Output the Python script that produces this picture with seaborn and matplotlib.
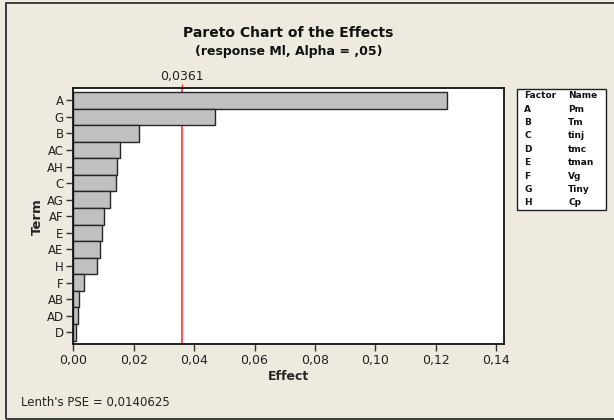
import matplotlib
matplotlib.use("Agg")
import matplotlib.pyplot as plt
from matplotlib.patches import Rectangle
from matplotlib.ticker import FuncFormatter, FixedLocator
import seaborn as sns
import pandas as pd

# Standardized effects, sorted by magnitude
terms = ["A", "G", "B", "AC", "AH", "C", "AG", "AF", "E", "AE", "H", "F", "AB", "AD", "D"]
effects = [0.1238, 0.0470, 0.0218, 0.0155, 0.01435, 0.0143, 0.0123, 0.0102,
           0.0094, 0.0088, 0.0078, 0.0034, 0.0020, 0.0017, 0.0010]

critical_value = 0.0361
critical_label = "0,0361"
lenth_pse = "0,0140625"

factor_codes = ["A", "B", "C", "D", "E", "F", "G", "H"]
factor_names = ["Pm", "Tm", "tinj", "tmc", "tman", "Vg", "Tiny", "Cp"]

x_ticks = [0.00, 0.02, 0.04, 0.06, 0.08, 0.10, 0.12, 0.14]

W, H = 614, 420
BG = "#EEEAE0"

sns.set_theme(style="white")
plt.rcParams["font.family"] = ["DejaVu Sans"]


def fx(px):
    return px / W


def fy(py):
    return 1 - py / H


df = pd.DataFrame({"Term": terms, "Effect": effects})

fig = plt.figure(figsize=(W / 100, H / 100), dpi=100)
fig.patch.set_facecolor(BG)

# outer frame
fig.add_artist(Rectangle((fx(6), fy(419)), fx(640) - fx(6), fy(3) - fy(419),
                         transform=fig.transFigure, fill=False,
                         edgecolor="#202020", linewidth=1.2))

ax = fig.add_axes([fx(73.3), fy(344.3), fx(504) - fx(73.3), fy(88.3) - fy(344.3)])
ax.set_facecolor("white")

sns.barplot(data=df, x="Effect", y="Term", orient="h", color="#C0C0C0",
            saturation=1, width=1.0, edgecolor="#262626", linewidth=1.0, ax=ax)

ax.axvline(critical_value, color="#FF2020", linewidth=1.1, zorder=0.5)

ax.set_xlim(0, 0.1426)
ax.set_ylim(len(terms) - 0.5 + 0.22, -0.5 - 0.22)

ax.xaxis.set_major_locator(FixedLocator(x_ticks))
ax.xaxis.set_major_formatter(FuncFormatter(lambda v, _: f"{v:.2f}".replace(".", ",")))

for s in ax.spines.values():
    s.set_visible(True)
    s.set_color("#111111")
    s.set_linewidth(1.3)

ax.tick_params(axis="x", bottom=True, direction="out", length=5, width=1,
               color="#333333", labelsize=9, pad=2, labelcolor="#222222")
ax.tick_params(axis="y", left=True, direction="out", length=5, width=1,
               color="#333333", labelsize=8.5, pad=2, labelcolor="#222222")

ax.set_xlabel("Effect", fontsize=9, fontweight="bold", labelpad=2)
ax.set_ylabel("Term", fontsize=9.5, fontweight="bold", labelpad=1.5)

# critical value marker on the top edge
sec = ax.secondary_xaxis("top")
sec.set_xticks([critical_value])
sec.set_xticklabels([critical_label])
sec.tick_params(axis="x", direction="out", length=3, width=1, color="#FF2020",
                labelsize=9, pad=0.5, labelcolor="#222222")
sec.spines["top"].set_visible(False)

# titles
cx = fx((73.3 + 504) / 2)
fig.text(cx, fy(33), "Pareto Chart of the Effects", ha="center", va="center",
         fontsize=10, fontweight="bold", color="#111111")
fig.text(cx, fy(51), "(response Ml, Alpha = ,05)", ha="center", va="center",
         fontsize=9, fontweight="bold", color="#111111")

fig.text(fx(21), fy(402.5), f"Lenth's PSE = {lenth_pse}", ha="left", va="center",
         fontsize=8.5, color="#222222")

# factor key
fig.add_artist(Rectangle((fx(517.3), fy(210)), fx(606) - fx(517.3), fy(89) - fy(210),
                         transform=fig.transFigure, facecolor="white",
                         edgecolor="#202020", linewidth=1.0))
fig.text(fx(524.3), fy(95.7), "Factor", ha="left", va="center", fontsize=6.5,
         fontweight="bold", color="#111111")
fig.text(fx(568.3), fy(95.7), "Name", ha="left", va="center", fontsize=6.5,
         fontweight="bold", color="#111111")
for i, (code, name) in enumerate(zip(factor_codes, factor_names)):
    yy = 109.3 + i * 13.35
    fig.text(fx(524.3), fy(yy), code, ha="left", va="center", fontsize=6.5,
             fontweight="bold", color="#111111")
    fig.text(fx(568.3), fy(yy), name, ha="left", va="center", fontsize=6.5,
             fontweight="bold", color="#111111")

fig.savefig("out.png", dpi=100, facecolor=BG)
